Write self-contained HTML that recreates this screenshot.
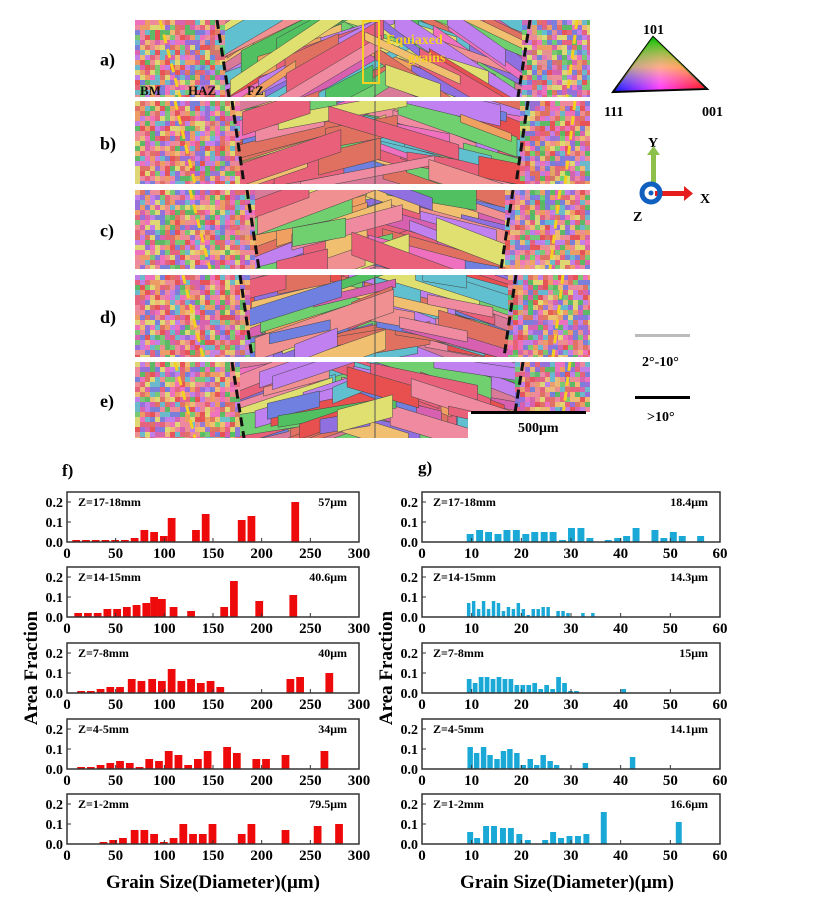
<!DOCTYPE html>
<html><head><meta charset="utf-8"><style>
body{margin:0;background:#fff;width:819px;height:900px;overflow:hidden;font-family:"Liberation Serif",serif;}
svg{position:absolute;left:0;top:0}
</style></head><body>
<svg id="fig" width="819" height="900" viewBox="0 0 819 900" font-family="Liberation Serif, serif" font-weight="bold">
<g id="ebsd"></g>
<g id="overlay"></g>
<g id="legend">
 <defs>
  <linearGradient id="g1" x1="0" y1="0" x2="1" y2="0"><stop offset="0" stop-color="#0010ff"/><stop offset="0.5" stop-color="#ff30ff"/><stop offset="1" stop-color="#ff0000"/></linearGradient>
  <linearGradient id="g2" x1="0" y1="0" x2="0" y2="1"><stop offset="0" stop-color="#00c000" stop-opacity="1"/><stop offset="0.55" stop-color="#ffff40" stop-opacity="0.6"/><stop offset="1" stop-color="#ffffff" stop-opacity="0"/></linearGradient>
 </defs>
 <polygon points="613,92 653,37 707,89" fill="url(#g1)" stroke="#000" stroke-width="2"/>
 <polygon points="613,92 653,37 707,89" fill="url(#g2)"/>
 <text x="643" y="34" font-size="14">101</text>
 <text x="604" y="116" font-size="14">111</text>
 <text x="702" y="116" font-size="14">001</text>
 <text x="648" y="147" font-size="14">Y</text>
 <rect x="651" y="152" width="5" height="32" fill="#8cc04a"/>
 <polygon points="647,155 653.5,146 660,155" fill="#8cc04a"/>
 <rect x="655" y="191" width="30" height="5" fill="#e51d1d"/>
 <polygon points="684,186 693,193.5 684,201" fill="#e51d1d"/>
 <circle cx="651" cy="193" r="9" fill="none" stroke="#1060c0" stroke-width="5"/>
 <circle cx="651" cy="193" r="2.5" fill="#1060c0"/>
 <text x="700" y="203" font-size="14">X</text>
 <text x="633" y="221" font-size="14">Z</text>
 <rect x="635" y="334" width="55" height="3" fill="#bbb"/>
 <text x="642" y="366" font-size="14">2°-10°</text>
 <rect x="635" y="396" width="55" height="3" fill="#000"/>
 <text x="647" y="421" font-size="14">&gt;10°</text>
</g>
<g id="charts"></g>
</svg>
<script>
// ---- histogram data (f: left, g: right) ----
const fLabels = ["Z=17-18mm","Z=14-15mm","Z=7-8mm","Z=4-5mm","Z=1-2mm"];
const fAvg = ["57μm","40.6μm","40μm","34μm","79.5μm"];
const fX1 = [10,20,30,40,50,60,70,80,90,100,108,133,143,180,190,235];
const fY1 = [0.01,0.01,0.01,0.01,0.01,0.01,0.02,0.06,0.05,0.03,0.12,0.06,0.14,0.11,0.13,0.2];
const fX2 = [12,22,32,42,52,62,72,82,90,98,110,128,162,172,198,233];
const fY2 = [0.02,0.02,0.02,0.04,0.04,0.05,0.06,0.07,0.1,0.09,0.05,0.03,0.05,0.18,0.08,0.11];
const fX3 = [15,25,35,45,55,67,77,88,98,108,118,128,138,148,158,230,240,270];
const fY3 = [0.01,0.01,0.02,0.03,0.03,0.07,0.06,0.07,0.06,0.12,0.06,0.07,0.05,0.06,0.03,0.07,0.08,0.1];
const fX4 = [15,25,35,45,55,65,75,85,95,105,115,125,135,145,165,175,195,205,225,265];
const fY4 = [0.01,0.01,0.02,0.03,0.04,0.03,0.01,0.05,0.04,0.09,0.07,0.02,0.05,0.09,0.11,0.08,0.05,0.05,0.07,0.09];
const fX5 = [38,48,58,70,80,90,100,110,120,130,140,150,180,190,225,258,280];
const fY5 = [0.01,0.02,0.03,0.07,0.07,0.05,0.01,0.03,0.1,0.05,0.05,0.1,0.05,0.1,0.07,0.09,0.1];
const gLabels = ["Z=17-18mm","Z=14-15mm","Z=7-8mm","Z=4-5mm","Z=1-2mm"];
const gAvg = ["18.4μm","14.3μm","15μm","14.1μm","16.6μm"];
const gX1 = [9.8,11.7,13.5,15.4,17.2,19.1,21,22.8,24.7,26.5,28.4,30.2,32.1,33.9,37.6,39.5,41.3,43.2,47,48.8,50.7,52.5,56.2];
const gY1 = [0.04,0.06,0.05,0.04,0.06,0.06,0.04,0.05,0.05,0.05,0.01,0.07,0.07,0.02,0.01,0.02,0.03,0.07,0.06,0.02,0.05,0.03,0.03];
const gX2 = [9.5,10.5,11.5,12.5,13.5,14.5,15.5,16.5,17.5,18.5,19.5,20.5,21.5,22.5,23.5,24.5,25.5,27.5,28.5,29.5,32.5,34.5];
const gY2 = [0.07,0.08,0.04,0.08,0.04,0.08,0.07,0.03,0.05,0.04,0.07,0.04,0.01,0.04,0.04,0.05,0.05,0.03,0.03,0.02,0.02,0.02];
const gX3 = [9.6,10.8,12,13.2,14.4,15.6,16.8,18,19.2,20.4,21.6,22.8,24,25.2,26.4,27.6,28.8,30,31.2,40.7];
const gY3 = [0.07,0.05,0.08,0.08,0.07,0.08,0.07,0.07,0.04,0.04,0.04,0.05,0.02,0.04,0.02,0.08,0.05,0.01,0.01,0.02];
const gX4 = [9.8,11.1,12.5,13.8,15.2,16.5,17.8,19.2,20.5,21.9,23.2,24.5,25.9,27.2,33,42.5];
const gY4 = [0.11,0.08,0.11,0.07,0.05,0.09,0.1,0.08,0.02,0.05,0.02,0.07,0.04,0.02,0.03,0.06];
const gX5 = [9.8,11.2,13,14.6,16.4,18,19.7,21.4,24.9,26.5,28.1,29.8,31.5,33.2,36.7,51.8];
const gY5 = [0.06,0.03,0.09,0.09,0.08,0.08,0.05,0.02,0.02,0.06,0.03,0.04,0.04,0.05,0.16,0.11];
const fXTicks = [0,50,100,150,200,250,300];
const gXTicks = [0,10,20,30,40,50,60];
const yTicks = [0.0,0.1,0.2];

const NS="http://www.w3.org/2000/svg";
function mk(tag,attrs,parent){const e=document.createElementNS(NS,tag);for(const k in attrs)e.setAttribute(k,attrs[k]);parent.appendChild(e);return e;}
const charts=document.getElementById('charts');
const panelTops=[492,567,643,719,794];
const PH=50;
function panel(x0,w,xmax,xt,xs,ys,bw,color,label,avg,idx,prefix){
  const y0=panelTops[idx], base=y0+PH;
  const g=mk('g',{},charts);
  
  
  const sx=v=>x0+v/xmax*w;
  const sy=v=>base-v/0.25*PH;
  for(let i=0;i<xs.length;i++){
    const b=mk('rect',{x:sx(xs[i]-bw/2),y:sy(ys[i]),width:sx(bw)-x0-1,height:base-sy(ys[i]),fill:color},g);
    
    
  }
  mk('rect',{x:x0,y:y0,width:w,height:PH,fill:'none',stroke:'#333','stroke-width':1.5},g);
  yTicks.forEach(t=>{const y=sy(t);mk('line',{x1:x0,x2:x0+4,y1:y,y2:y,stroke:'#333'},g);
    const tx=mk('text',{x:x0-4,y:y+5,'font-size':14,'text-anchor':'end'},g);tx.textContent=t.toFixed(1);});
  xt.forEach(t=>{const x=sx(t);mk('line',{x1:x,x2:x,y1:base,y2:base-4,stroke:'#333'},g);
    if(idx<4||true){const tx=mk('text',{x:x,y:base+16,'font-size':15,'text-anchor':'middle'},g);tx.textContent=t;}});
  const l=mk('text',{x:x0+11,y:y0+14,'font-size':12},g);l.textContent=label;
  const a=mk('text',{x:x0+w-12,y:y0+14,'font-size':12,'text-anchor':'end'},g);a.textContent=avg;
}
const fXs=[fX1,fX2,fX3,fX4,fX5],fYs=[fY1,fY2,fY3,fY4,fY5];
const gXs=[gX1,gX2,gX3,gX4,gX5],gYs=[gY1,gY2,gY3,gY4,gY5];
for(let i=0;i<5;i++){
  panel(67,292,300,fXTicks,fXs[i],fYs[i],9,'#ee0a0a',fLabels[i],fAvg[i],i,'f');
  panel(422,298,60,gXTicks,gXs[i],gYs[i],gX1===gXs[i]?1.6:(i==1?0.9:(i==2?1.15:(i==3?1.3:1.4))),'#1aa9d6',gLabels[i],gAvg[i],i,'g');
}
function txt(s,attrs,name){const t=mk('text',attrs,charts);t.textContent=s;return t;}
txt('f)',{x:62,y:476,'font-size':17},'panel-label-f');
txt('g)',{x:418,y:473,'font-size':17},'panel-label-g');
txt('Area Fraction',{x:0,y:0,'font-size':19,'text-anchor':'middle',transform:'translate(37,668) rotate(-90)'},'y-axis-title-f');
txt('Area Fraction',{x:0,y:0,'font-size':19,'text-anchor':'middle',transform:'translate(392,668) rotate(-90)'},'y-axis-title-g');
txt('Grain Size(Diameter)(μm)',{x:213,y:888,'font-size':19,'text-anchor':'middle'},'x-axis-title-f');
txt('Grain Size(Diameter)(μm)',{x:567,y:888,'font-size':19,'text-anchor':'middle'},'x-axis-title-g');

// ---- EBSD texture (decorative) ----
const eb=document.getElementById('ebsd');
let seed=12345;function rnd(){seed=(seed*1103515245+12345)%2147483648;return seed/2147483648;}
const pal=['#e8607a','#e07060','#ef8aa0','#d860b0','#f0a060','#f0c070','#70d070','#50c060','#9070e0','#7080e0','#e0e070','#e85050','#f070c0','#c080f0','#60c0d0','#f09090'];
const strips=[[20,97,225,522],[101,184,240,520],[190,269,255,505],[275,357,248,508],[362,438,240,515]];
const lbl=['a)','b)','c)','d)','e)'];
strips.forEach((s,si)=>{
  const [t,b,lx,rx]=s,h=b-t;
  const g=mk('g',{},eb);
  
  
  mk('rect',{x:135,y:t,width:455,height:h,fill:'#d87a98'},g);
  const cp=mk('clipPath',{id:'cp'+si},g);mk('rect',{x:135,y:t,width:455,height:h},cp);
  const gg=mk('g',{'clip-path':'url(#cp'+si+')'},g);
  // FZ elongated grains
  for(let k=0;k<90;k++){
    const cx=lx+rnd()*(rx-lx), cy=t+rnd()*h, L=20+rnd()*50, W=4+rnd()*8;
    const side=cx<375?-1:1, sl=side*(0.15+rnd()*0.25)*(si==0?2:1);
    const pts=[[cx-L,cy-W-sl*L],[cx+L,cy-W+sl*L],[cx+L,cy+W+sl*L],[cx-L,cy+W-sl*L]].map(p=>p.join(',')).join(' ');
    mk('polygon',{points:pts,fill:pal[Math.floor(rnd()*pal.length)],stroke:'#444','stroke-width':0.5},gg);
  }
  // fine grains BM/HAZ
  for(let x=135;x<lx;x+=5)for(let y=t;y<b;y+=5)
    mk('rect',{x:x,y:y,width:5,height:5,fill:pal[Math.floor(rnd()*pal.length)],opacity:0.9},gg);
  for(let x=rx;x<590;x+=5)for(let y=t;y<b;y+=5)
    mk('rect',{x:x,y:y,width:5,height:5,fill:pal[Math.floor(rnd()*pal.length)],opacity:0.9},gg);
  mk('line',{x1:375,x2:375,y1:t,y2:b,stroke:'#555','stroke-width':1},gg);
  mk('line',{x1:lx-8,y1:t,x2:lx+4,y2:b,stroke:'#111','stroke-width':3,'stroke-dasharray':'9,5'},gg);
  mk('line',{x1:rx+8,y1:t,x2:rx-4,y2:b,stroke:'#111','stroke-width':3,'stroke-dasharray':'9,5'},gg);
  mk('line',{x1:lx-65,y1:t,x2:lx-45,y2:b,stroke:'#f5d020','stroke-width':3,'stroke-dasharray':'9,6'},gg);
  mk('line',{x1:rx+55,y1:t,x2:rx+45,y2:b,stroke:'#f5d020','stroke-width':3,'stroke-dasharray':'9,6'},gg);
  const tl=mk('text',{x:100,y:t+h/2+7,'font-size':18},eb);tl.textContent=lbl[si];
  
  
});
const ov=document.getElementById('overlay');
mk('rect',{x:363,y:21,width:16,height:62,fill:'none',stroke:'#f5d020','stroke-width':2},ov);
const eq=mk('text',{x:386,y:44,'font-size':14,fill:'#f5d020'},ov);eq.textContent='Equiaxed';
const eq2=mk('text',{x:408,y:62,'font-size':14,fill:'#f5d020'},ov);eq2.textContent='grains';
[['BM',140],['HAZ',188],['FZ',247]].forEach(a=>{const t=mk('text',{x:a[1],y:95,'font-size':13,fill:'#111'},ov);t.textContent=a[0];});
mk('rect',{x:468,y:412,width:122,height:28,fill:'#fff'},ov);
mk('rect',{x:471,y:411,width:115,height:3,fill:'#000'},ov);
const sb=mk('text',{x:518,y:432,'font-size':14},ov);sb.textContent='500μm';


</script>
</body></html>
